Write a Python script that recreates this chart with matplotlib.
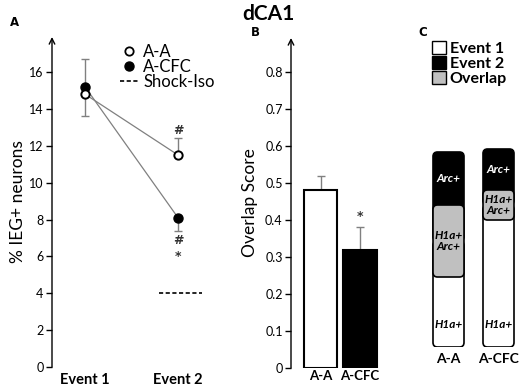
import numpy as np
import matplotlib
matplotlib.use('Agg')
from matplotlib import pyplot as plt
from matplotlib.patches import FancyBboxPatch, Patch
from matplotlib.lines import Line2D

plt.rcParams['font.family'] = ['Lato', 'DejaVu Sans']

# ---- datos ----
eventos = ['Event 1', 'Event 2']
aa_media = [14.8, 11.5]
aa_err_inf = [1.2, 0.0]
aa_err_sup = [0.0, 0.9]
cfc_media = [15.2, 8.1]
cfc_err_inf = [0.0, 0.7]
cfc_err_sup = [1.5, 0.0]
shock_iso = 4.0

grupos = ['A-A', 'A-CFC']
overlap = [0.48, 0.32]
overlap_err = [0.04, 0.06]

# panel C: alturas relativas (solo evento 1, solapamiento, solo evento 2)
seg_h1a = [70, 127]
seg_overlap = [72, 30]
seg_arc = [53, 41]

W, H = 519, 387
fig = plt.figure(figsize=(W/100, H/100), dpi=100)

def caja(l, b, r, t):
    # pixeles -> fraccion de figura
    return [l/W, 1-b/H, (r-l)/W, (b-t)/H]

def eje_flecha(ax):
    for s in ['top', 'right', 'bottom', 'left']:
        ax.spines[s].set_visible(False)
    ax.annotate('', xy=(0, 1), xytext=(0, 0), xycoords='axes fraction',
                arrowprops=dict(arrowstyle='->', lw=1.0, color='k', shrinkA=0, shrinkB=0))

estrella = dict(ha='center', va='center', fontsize=9, color='#333333', family='DejaVu Sans', fontweight='bold')

#==============================================================================
# Panel A
#==============================================================================
ax = fig.add_axes(caja(52, 367, 215, 37))
x = np.array([1, 2])
ax.plot(x, aa_media, color='gray', lw=0.9, zorder=1)
ax.plot(x, cfc_media, color='gray', lw=0.9, zorder=1)
ax.errorbar(x, aa_media, yerr=[aa_err_inf, aa_err_sup], fmt='none', ecolor='gray', lw=1, capsize=3, zorder=2)
ax.errorbar(x, cfc_media, yerr=[cfc_err_inf, cfc_err_sup], fmt='none', ecolor='gray', lw=1, capsize=3, zorder=2)
ax.plot(x, cfc_media, 'o', mfc='black', mec='black', ms=6.5, zorder=3)
ax.plot(x, aa_media, 'o', mfc='white', mec='black', mew=1.4, ms=6, zorder=4)
ax.hlines(shock_iso, 1.8, 2.26, colors='black', linestyles=(0, (2.5, 1.5)), lw=1.2)
ax.text(2, 12.85, '#', **estrella)
ax.text(2, 6.85, '#', **estrella)
ax.text(2, 6.0, '*', **estrella)
ax.set_xlim(0.645, 2.398)
ax.set_ylim(0, 17.9)
ax.set_yticks(np.arange(0, 17, 2))
ax.set_xticks(x, eventos, fontweight='bold', fontsize=10.5)
ax.tick_params(axis='x', length=0, pad=4)
ax.tick_params(axis='y', length=4, width=1, labelsize=9, pad=2)
eje_flecha(ax)
ax.set_ylabel('% IEG+ neurons', fontsize=12.5, labelpad=2)
leg = ax.legend(handles=[Line2D([], [], ls='none', marker='o', mfc='white', mec='black', mew=1.3, ms=6),
                         Line2D([], [], ls='none', marker='o', mfc='black', mec='black', ms=6.5),
                         Line2D([], [], ls=(0, (2.5, 1.5)), color='black', lw=1.2)],
                labels=['A-A', 'A-CFC', 'Shock-Iso'], loc='upper left',
                bbox_to_anchor=(120/W, 1-44/H), bbox_transform=fig.transFigure,
                frameon=False, fontsize=12, handlelength=1.1, handletextpad=0.3,
                labelspacing=-0.05, borderpad=0, borderaxespad=0)

#==============================================================================
# Panel B
#==============================================================================
ax = fig.add_axes(caja(291, 368, 382, 38))
xb = np.arange(len(grupos))
ax.bar(xb, overlap, width=0.84, color=['white', 'black'], edgecolor='black', lw=1.5, zorder=2)
ax.errorbar(xb, overlap, yerr=[[0, 0], overlap_err], fmt='none', ecolor='gray', lw=1, capsize=3, zorder=1)
ax.text(1, 0.41, '*', **estrella)
ax.set_xlim(-0.747, 1.557)
ax.set_ylim(0, 0.892)
ax.set_yticks(np.arange(0, 0.81, 0.1), ['0'] + ['%.1f' % v for v in np.arange(0.1, 0.81, 0.1)])
ax.set_xticks(xb, grupos, fontweight='bold', fontsize=9.5)
ax.tick_params(axis='x', length=0, pad=1.5)
ax.tick_params(axis='y', length=4, width=1, labelsize=9, pad=2)
eje_flecha(ax)
ax.set_ylabel('Overlap Score', fontsize=12.5, labelpad=5)

#==============================================================================
# Panel C
#==============================================================================
ax = fig.add_axes(caja(420, 347, 519, 140))
ax.set_xlim(-0.57, 1.41)
ax.set_ylim(0, 207)
ancho = 0.62
asp = 50
for i in range(len(grupos)):
    h1 = seg_h1a[i]
    ov = seg_overlap[i]
    tot = h1 + ov + seg_arc[i]
    x0 = i - ancho/2
    ax.add_patch(FancyBboxPatch((x0, h1 + ov/2), ancho, tot - h1 - ov/2,
                                boxstyle='round,pad=0,rounding_size=0.09', mutation_aspect=asp,
                                fc='black', ec='black', lw=1.2))
    ax.add_patch(FancyBboxPatch((x0, 0), ancho, h1 + ov/2,
                                boxstyle='round,pad=0,rounding_size=0.09', mutation_aspect=asp,
                                fc='white', ec='black', lw=1.2))
    ax.add_patch(FancyBboxPatch((x0, h1), ancho, ov,
                                boxstyle='round,pad=0,rounding_size=0.09', mutation_aspect=asp,
                                fc='#c0c0c0', ec='black', lw=1.2))
    ax.text(i, h1 + ov + seg_arc[i]/2, 'Arc+', color='white', ha='center', va='center',
            fontsize=8.5, fontweight='bold', fontstyle='italic')
    ax.text(i, h1 + ov/2, 'H1a+\nArc+', color='black', ha='center', va='center',
            fontsize=8.5, fontweight='bold', fontstyle='italic', linespacing=0.95)
    ax.text(i, 22, 'H1a+', color='black', ha='center', va='center',
            fontsize=8.5, fontweight='bold', fontstyle='italic')
ax.set_xticks(range(len(grupos)), grupos, fontweight='bold', fontsize=10)
ax.set_yticks([])
ax.tick_params(axis='x', length=0, pad=4)
for s in ['top', 'right', 'bottom', 'left']:
    ax.spines[s].set_visible(False)
ax.legend(handles=[Patch(fc='white', ec='black', lw=1), Patch(fc='black', ec='black', lw=1),
                   Patch(fc='#c0c0c0', ec='black', lw=1)],
          labels=['Event 1', 'Event 2', 'Overlap'], loc='upper left',
          bbox_to_anchor=(432/W, 1-41/H), bbox_transform=fig.transFigure,
          frameon=False, handlelength=0.85, handleheight=0.85, handletextpad=0.25,
          labelspacing=0.0, borderpad=0, borderaxespad=0,
          prop={'weight': 'bold', 'size': 11.5})

# letras y titulo
letra = dict(fontweight='bold', fontsize=8.5, ha='center', va='center', family='DejaVu Sans')
fig.text(15/W, 1-22/H, 'A', **letra)
fig.text(255/W, 1-32/H, 'B', **letra)
fig.text(423/W, 1-33/H, 'C', **letra)
fig.text(268/W, 1-14/H, 'dCA1', fontweight='bold', fontsize=15, ha='center', va='center')

plt.savefig('out.png', dpi=100)
